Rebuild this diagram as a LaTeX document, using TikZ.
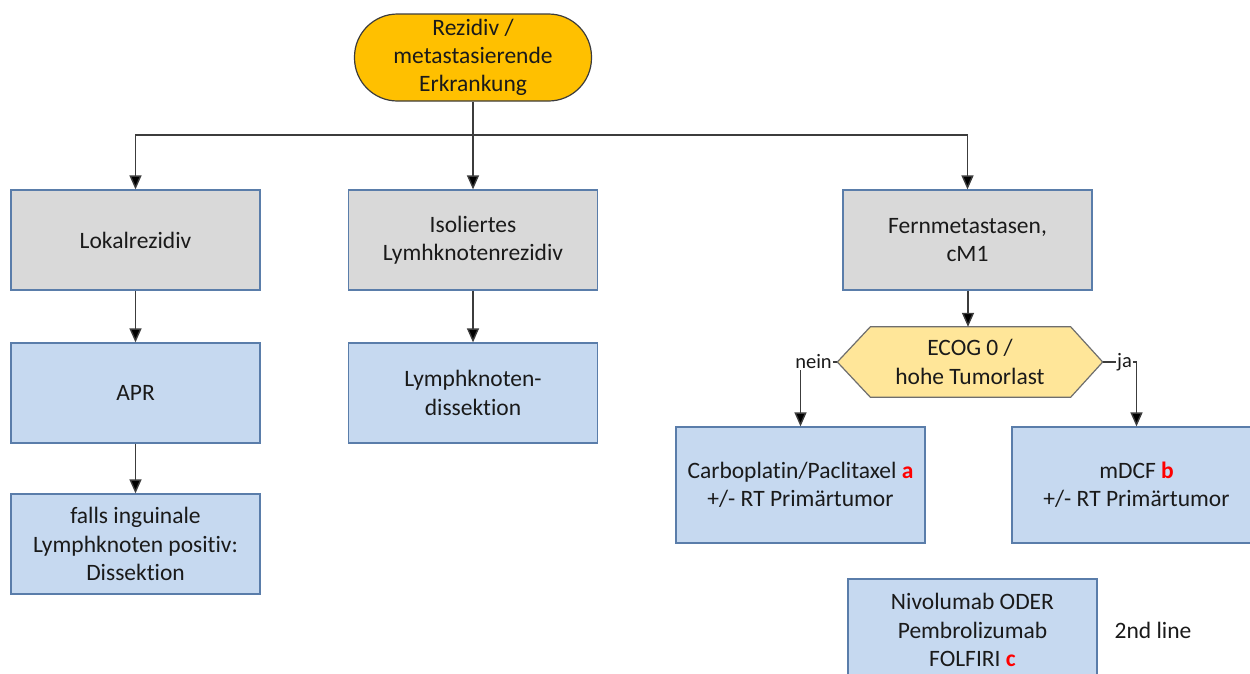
\documentclass[tikz,border=0pt]{standalone}
\usepackage{fontspec}
\setmainfont{Carlito}[RawFeature=-liga]
\usetikzlibrary{arrows.meta,backgrounds}
\definecolor{txt}{HTML}{1A1A1A}
\definecolor{linec}{HTML}{3C3C3C}
\definecolor{boxborder}{HTML}{5A7DAA}
\definecolor{grayfill}{HTML}{D9D9D9}
\definecolor{bluefill}{HTML}{C6D9F0}
\definecolor{orangefill}{HTML}{FFC000}
\definecolor{hexfill}{HTML}{FFE699}
\definecolor{hexborder}{HTML}{6E6E6E}
\definecolor{redtxt}{HTML}{FF0000}
\tikzset{
  base/.style={font=\fontsize{23.5}{28.3}\selectfont, text=txt, align=center, inner sep=0pt},
  graybox/.style={base, draw=boxborder, fill=grayfill, line width=1.3pt, minimum width=249pt, minimum height=100pt},
  bluebox/.style={base, draw=boxborder, fill=bluefill, line width=1.3pt, minimum width=249pt, minimum height=100pt},
  startbox/.style={base, draw=linec, fill=orangefill, line width=1.2pt, rounded corners=43pt, minimum width=237pt, minimum height=87pt},
  hexbox/.style={base, minimum width=265pt, minimum height=70pt},
  conn/.style={draw=linec, line width=1.4pt},
  arr/.style={conn, -{Triangle[length=14pt,width=12pt,fill=black]}},
  lbl/.style={font=\fontsize{20.5}{22}\selectfont, text=txt, fill=white, inner sep=1pt}
}
\newcommand{\rl}[1]{\textcolor{redtxt}{\textbf{#1}}}
\begin{document}
\begin{tikzpicture}[x=1pt,y=-1pt]
\useasboundingbox (0,0) rectangle (1250,673);

\node[startbox] (top) at (473,57.5) {Rezidiv /\\metastasierende\\Erkrankung};

\node[graybox] (lokal) at (135.5,240) {Lokalrezidiv};
\node[graybox] (iso) at (473,240) {Isoliertes\\Lymhknotenrezidiv};
\node[graybox] (fern) at (967.5,240) {Fernmetastasen,\\cM1};

\node[bluebox] (apr) at (135.5,393) {APR};
\node[bluebox] (diss) at (135.5,544) {falls inguinale\\Lymphknoten positiv:\\Dissektion};
\node[bluebox] (lkd) at (473,393) {Lymphknoten-\\dissektion};

\node[hexbox] (hex) at (970,362) {ECOG 0 /\\hohe Tumorlast};
\begin{scope}[on background layer]
\fill[white] (0,0) rectangle (1250,673);
\draw[fill=hexfill, draw=hexborder, line width=1.2pt]
  (hex.west) -- ([xshift=33pt]hex.north west) -- ([xshift=-32pt]hex.north east)
  -- (hex.east) -- ([xshift=-32pt]hex.south east) -- ([xshift=33pt]hex.south west) -- cycle;
\end{scope}

\node[bluebox, minimum height=116pt] (carbo) at (800.5,485) {Carboplatin/Paclitaxel \rl{a}\\+/- RT Primärtumor};
\node[bluebox, minimum height=116pt] (mdcf) at (1136.5,485) {mDCF \rl{b}\\+/- RT Primärtumor};
\node[bluebox, minimum height=102pt] (nivo) at (972.5,630) {Nivolumab ODER\\Pembrolizumab\\FOLFIRI \rl{c}};
\node[base] (second) at (1153,630) {2nd line};

\coordinate (junc) at (473,135);
\draw[conn] (top.south) -- (junc);
\draw[arr] (junc) -- (iso.north);
\draw[arr] (junc) -| (lokal.north);
\draw[arr] (junc) -| (fern.north);

\draw[arr] (lokal.south) -- (apr.north);
\draw[arr] (apr.south) -- (diss.north);
\draw[arr] (iso.south) -- (lkd.north);
\draw[arr] ([xshift=0.5pt]fern.south) -- ([xshift=-2pt]hex.north);

\draw[arr] (hex.west) -| node[lbl, pos=0.5, xshift=13pt] {nein} (carbo.north);
\draw[arr] (hex.east) -| node[lbl, pos=0.5, xshift=-12pt] {ja} (mdcf.north);
\end{tikzpicture}
\end{document}
